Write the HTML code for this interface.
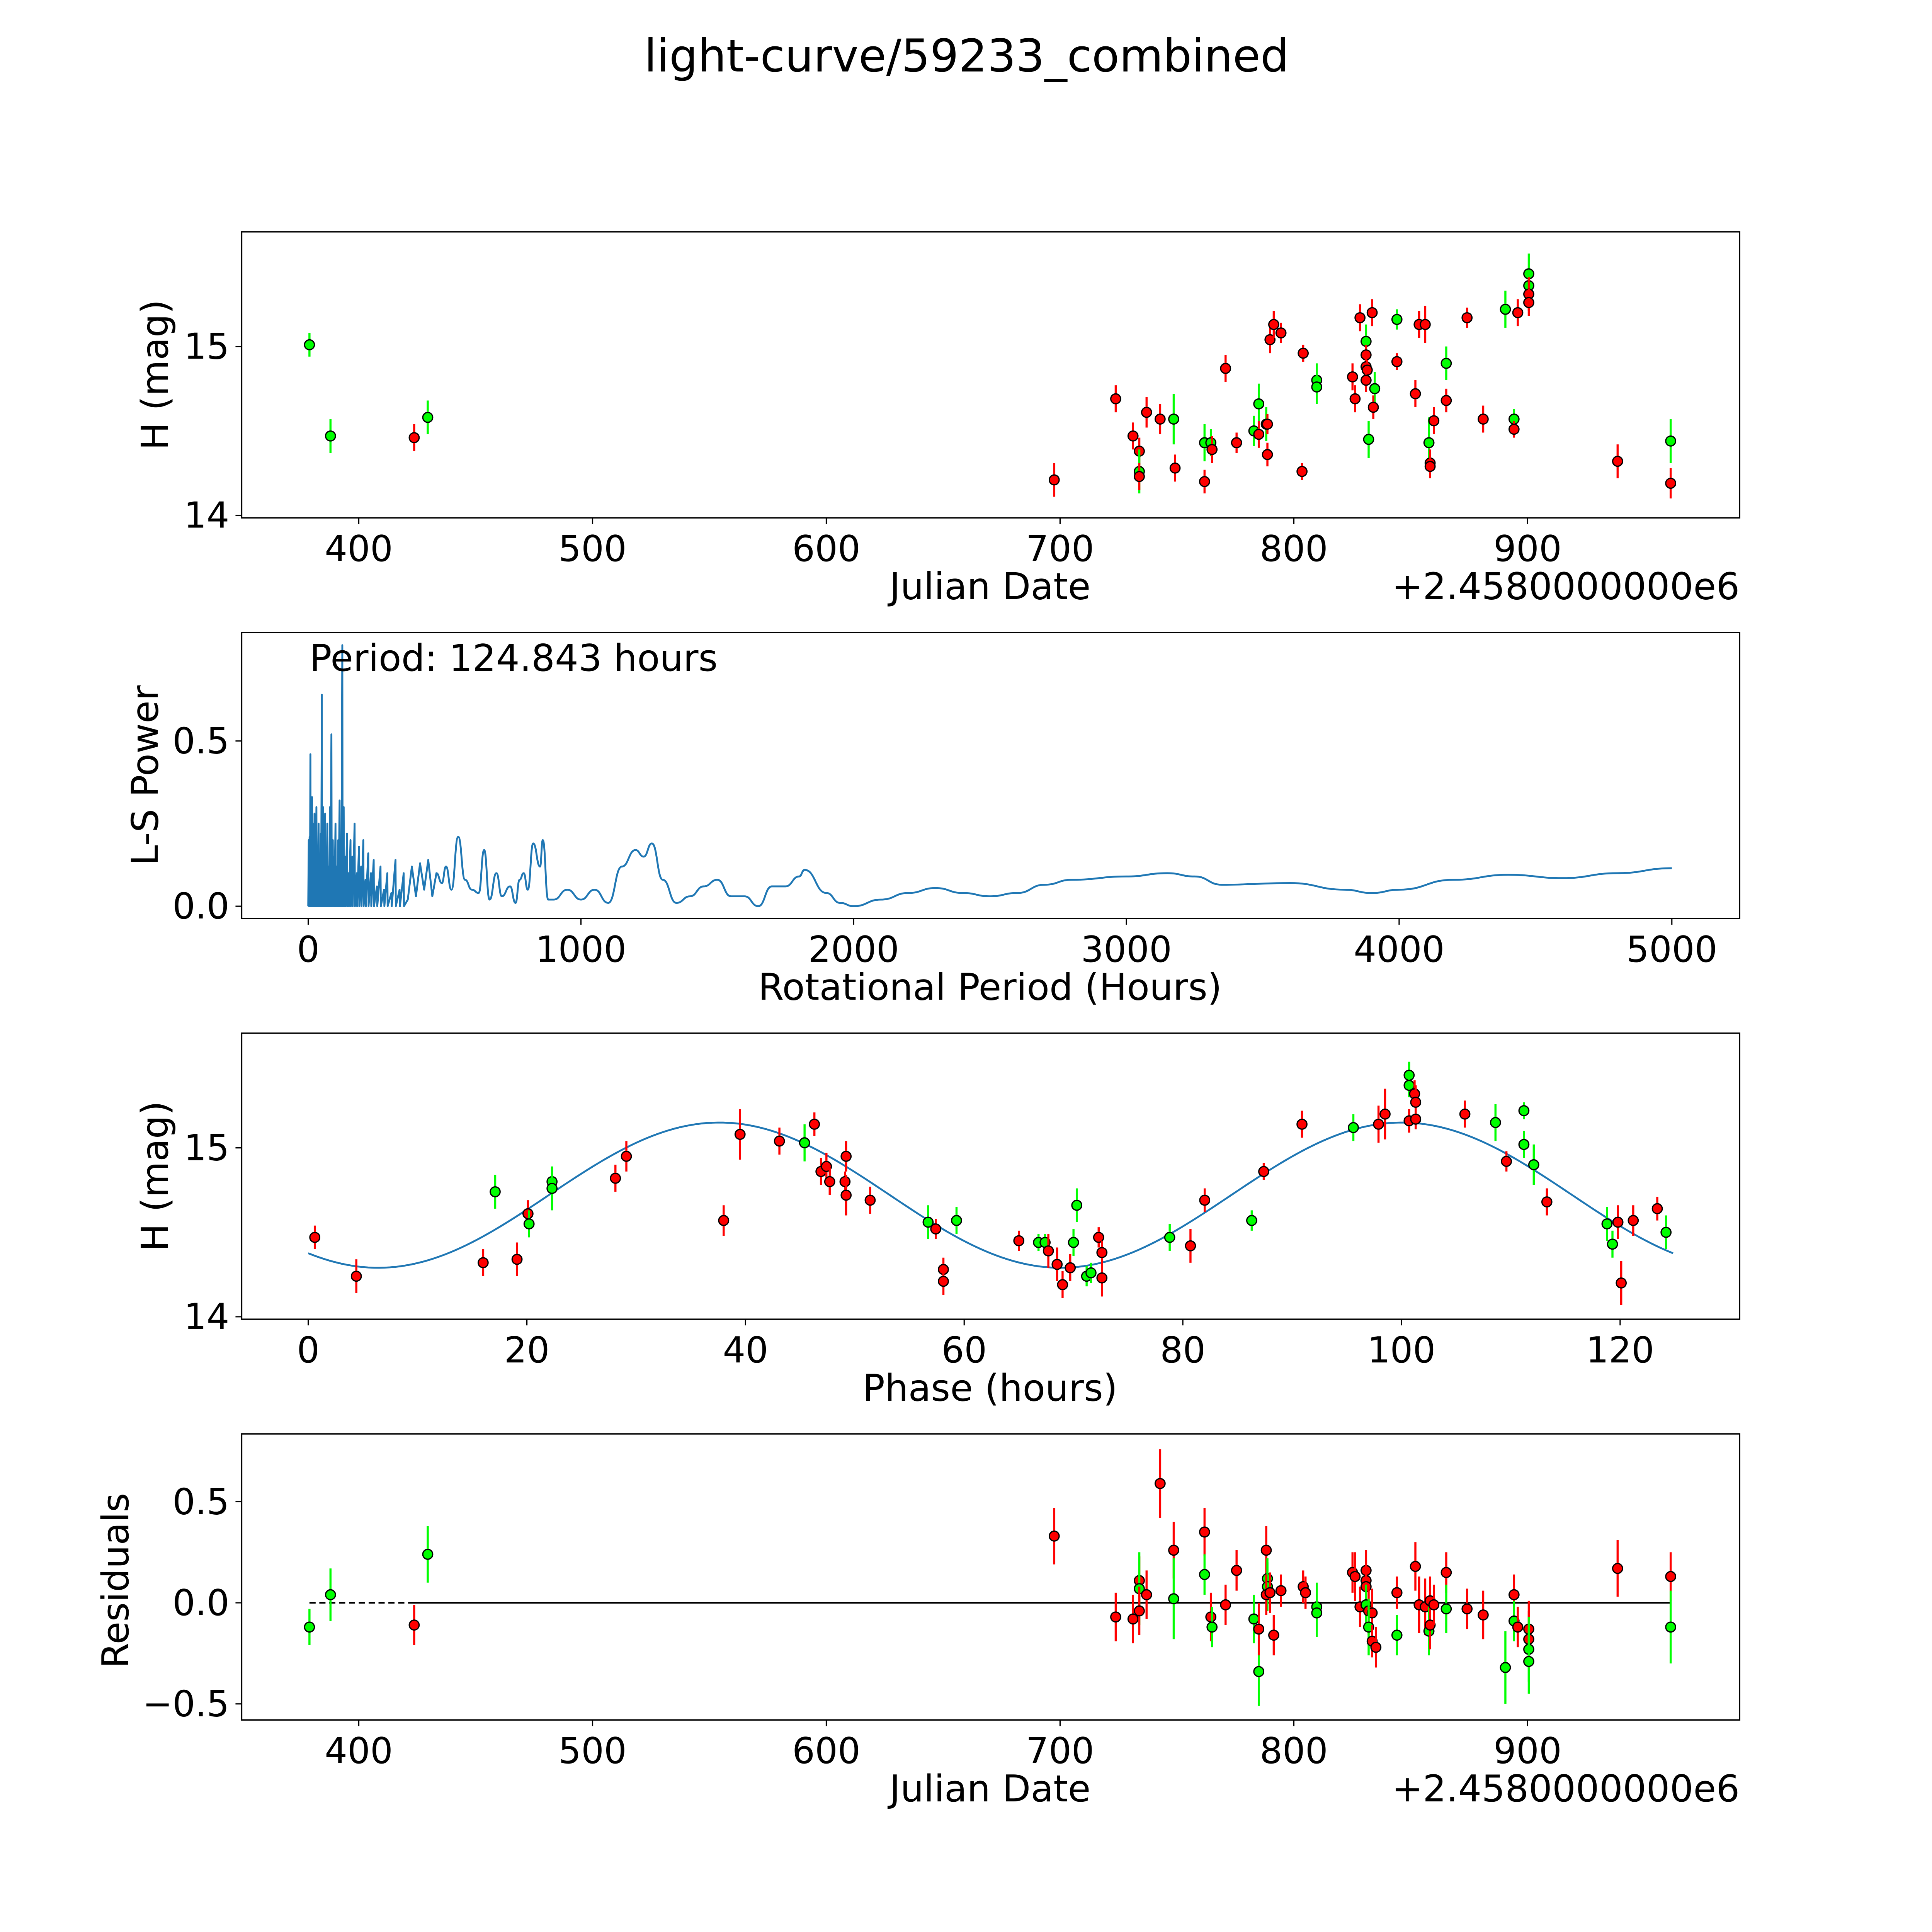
<!DOCTYPE html>
<html><head><meta charset="utf-8">
<style>
html,body{margin:0;padding:0;background:#fff;width:100vw;height:100vh;overflow:hidden;}
svg{display:block;width:100vw;height:100vh;font-family:"DejaVu Sans","Liberation Sans",sans-serif;}
</style></head>
<body>
<svg id="fig" viewBox="0 0 1567 1567" preserveAspectRatio="none" xmlns="http://www.w3.org/2000/svg">
<rect width="1567" height="1567" fill="#fff"/>
<text x="784" y="58" font-size="36.5" text-anchor="middle">light-curve/59233_combined</text>
<g id="plots"></g>
</svg>
<script>
// ---- Panel 1: light curve ----
const jd = [378.9,387.9,423.7,429.5,697.5,723.8,731.2,733.9,733.9,733.9,737,742.8,748.6,749.2,761.8,761.8,764.5,765,770.8,775.5,782.9,785,785,788.2,788.7,788.7,789.8,791.4,794.5,804,803.5,809.8,809.8,825.1,826.2,828.3,830.9,830.9,830.9,831.4,830.9,832,833.5,834.6,834,844.1,844.1,852,853.6,856.2,857.8,858.3,858.3,859.9,865.2,865.2,874.1,881,890.5,894.2,894.2,895.8,900.5,900.5,900.5,900.5,938.5,961.2,961.2];
const mag = [15.01,14.47,14.46,14.58,14.21,14.69,14.47,14.38,14.26,14.23,14.61,14.57,14.57,14.28,14.43,14.20,14.43,14.39,14.87,14.43,14.50,14.66,14.48,14.54,14.54,14.36,15.04,15.13,15.08,14.96,14.26,14.80,14.76,14.82,14.69,15.17,15.03,14.95,14.88,14.86,14.80,14.45,15.20,14.75,14.64,15.16,14.91,14.72,15.13,15.13,14.43,14.31,14.29,14.56,14.90,14.68,15.17,14.57,15.22,14.57,14.51,15.20,15.43,15.36,15.31,15.26,14.32,14.44,14.19];
const band = "ggrgrrrrgrrrgrgrgrrrggrgrrrrrrrggrrrgrrrrgrgrgrrrrgrrrgrrrggrrggrrrgr";
const magErr = [0.07,0.1,0.08,0.1,0.1,0.08,0.08,0.08,0.13,0.08,0.09,0.09,0.15,0.08,0.11,0.07,0.08,0.08,0.08,0.06,0.09,0.12,0.08,0.1,0.06,0.07,0.08,0.08,0.06,0.05,0.05,0.1,0.1,0.08,0.08,0.08,0.1,0.06,0.06,0.06,0.07,0.11,0.08,0.1,0.07,0.06,0.05,0.08,0.08,0.11,0.15,0.08,0.07,0.08,0.1,0.07,0.06,0.08,0.11,0.06,0.05,0.08,0.12,0.08,0.1,0.08,0.1,0.13,0.09];

// ---- Panel 2: periodogram ----
const spikePeriods = [2,5,8,11,14,17,20,23,26,30,34,38,42,46,50,54,58,62,66,70,75,80,85,90,95,100,105,110,115,120,125,130,136,142,148,155,162,170,178,186,194,202,210,220,230,240,252,265,278,290,305,320,335,350,365,380,395,410,425,440,455,470,490,505,525,550,575,600,625,645,665,690,710,740,760,775,790,805,825,850,860,880];
const spikePowers = [0.2,0.21,0.46,0.1,0.33,0.25,0.15,0.28,0.2,0.3,0.15,0.25,0.12,0.22,0.64,0.3,0.2,0.28,0.15,0.25,0.12,0.3,0.52,0.2,0.15,0.25,0.12,0.2,0.32,0.15,0.79,0.3,0.15,0.22,0.1,0.2,0.15,0.25,0.1,0.18,0.12,0.2,0.08,0.16,0.1,0.14,0.06,0.12,0.05,0.1,0.04,0.14,0.05,0.1,0.02,0.12,0.03,0.13,0.05,0.14,0.03,0.1,0.07,0.12,0.05,0.21,0.08,0.05,0.04,0.17,0.02,0.1,0.03,0.06,0.01,0.08,0.1,0.05,0.19,0.12,0.2,0.02];
const smoothPeriods = [900,950,1000,1050,1100,1150,1200,1230,1260,1300,1350,1400,1450,1500,1550,1600,1650,1700,1750,1800,1820,1900,1950,2000,2100,2200,2300,2400,2500,2600,2700,2800,3000,3150,3250,3350,3600,3800,3900,4000,4200,4400,4600,4800,5000];
const smoothPowers = [0.02,0.05,0.02,0.05,0.01,0.12,0.17,0.15,0.19,0.08,0.01,0.03,0.06,0.08,0.03,0.03,0.0,0.06,0.06,0.09,0.11,0.04,0.01,0.0,0.02,0.04,0.055,0.04,0.03,0.04,0.065,0.08,0.09,0.10,0.09,0.065,0.07,0.05,0.04,0.05,0.08,0.095,0.085,0.1,0.115];

// ---- Panel 3: phased ----
const phase = [0.6,4.4,16.0,17.1,19.1,20.1,20.2,22.3,22.3,28.1,29.1,38.0,39.5,43.1,45.4,46.3,46.9,47.4,47.7,49.1,49.2,49.2,51.4,56.7,57.4,58.1,58.1,59.3,65.0,66.8,67.4,67.7,68.5,69.0,69.7,70.0,70.3,71.2,71.6,72.3,72.6,72.6,78.8,80.7,82.0,86.3,87.4,90.9,95.6,97.9,98.5,100.7,100.7,101.2,101.3,100.7,101.3,105.8,108.6,109.6,111.2,111.2,112.1,113.3,118.8,119.3,119.8,120.1,121.2,123.4,124.2];
const phaseMag = [14.47,14.24,14.32,14.74,14.34,14.61,14.55,14.80,14.76,14.82,14.95,14.57,15.08,15.04,15.03,15.14,14.86,14.89,14.80,14.80,14.95,14.72,14.69,14.56,14.52,14.28,14.21,14.57,14.45,14.44,14.44,14.39,14.31,14.19,14.29,14.44,14.66,14.24,14.26,14.47,14.38,14.23,14.47,14.42,14.69,14.57,14.86,15.14,15.12,15.14,15.20,15.43,15.37,15.32,15.27,15.16,15.17,15.20,15.15,14.92,15.22,15.02,14.90,14.68,14.55,14.43,14.56,14.20,14.57,14.64,14.50];
const phaseBand = "rrrgrrgggrrrrrgrrrrrrrrgrrrgrggrrrrggggrrrgrrgrrgrrggrrrrrgrgggrggrrrrg";
const modelParams = [14.72, 0.43, 62.42, 22.0, 124.843]; // mean, amplitude, period, phase offset, span

// ---- Panel 4: residuals ----
const resJd = [378.9,387.9,423.7,429.5,697.5,723.8,731.2,733.9,733.9,733.9,737,742.8,748.6,748.6,761.8,761.8,764.5,765,770.8,775.5,782.9,785,785,788.2,788.7,788.7,788.2,789.8,791.4,794.5,804,805,809.8,809.8,825.1,826.2,828.3,830.9,830.9,830.9,830.9,832,833.5,832,833.5,835.1,844.1,844.1,852,853.6,856.2,857.8,858.3,858.3,859.9,865.2,865.2,874.1,881,890.5,894.2,894.2,895.8,900.5,900.5,900.5,900.5,938.5,961.2,961.2];
const resid = [-0.12,0.04,-0.11,0.24,0.33,-0.07,-0.08,0.11,0.07,-0.04,0.04,0.59,0.26,0.02,0.35,0.14,-0.07,-0.12,-0.01,0.16,-0.08,-0.34,-0.13,0.26,0.12,0.08,0.04,0.05,-0.16,0.06,0.08,0.05,-0.02,-0.05,0.15,0.13,-0.02,0.16,0.11,0.08,-0.01,-0.04,-0.05,-0.12,-0.19,-0.22,0.05,-0.16,0.18,-0.01,-0.02,-0.14,0.01,-0.11,-0.01,0.15,-0.03,-0.03,-0.06,-0.32,0.04,-0.09,-0.12,-0.13,-0.18,-0.23,-0.29,0.17,0.13,-0.12];
const resBand = "ggrgrrrrgrrrrgrgrgrrggrrggrrrrrrggrrrrrrgrrgrrrgrrrgrrrrgrrgrgrrrggrrg";
const resErr = [0.09,0.13,0.1,0.14,0.14,0.12,0.12,0.12,0.18,0.12,0.12,0.17,0.14,0.2,0.12,0.1,0.12,0.1,0.1,0.1,0.12,0.17,0.13,0.12,0.1,0.12,0.1,0.1,0.1,0.08,0.08,0.08,0.12,0.12,0.1,0.12,0.1,0.1,0.1,0.1,0.1,0.12,0.12,0.14,0.08,0.1,0.08,0.1,0.12,0.14,0.14,0.12,0.12,0.12,0.1,0.1,0.12,0.1,0.12,0.18,0.1,0.1,0.1,0.14,0.14,0.16,0.16,0.14,0.12,0.18];

const xTicksJd = [400,500,600,700,800,900];
const yTicksMag = [14,15];
const xTicksP = [0,1000,2000,3000,4000,5000];
const yTicksP = [0.0,0.5];
const xTicksPh = [0,20,40,60,80,100,120];
const yTicksRes = [-0.5,0.0,0.5];

const NS = "http://www.w3.org/2000/svg";
const root = document.getElementById('plots');
function mk(tag, attrs, parent, txt){
  const e = document.createElementNS(NS, tag);
  for (const k in attrs) e.setAttribute(k, attrs[k]);
  if (txt !== undefined) e.textContent = txt;
  (parent || root).appendChild(e);
  return e;
}
const L = 196, R = 1411;
const TF = 29, LF = 30;
const sxJd = v => 291 + (v - 400) * 1.896;
const COL = {r:'#ff0000', g:'#00ff00'};

function axesBox(name, top, bottom){
  const g = mk('g', {});
  
  
  mk('rect', {x:L, y:top, width:R-L, height:bottom-top, fill:'none', stroke:'#000', 'stroke-width':1.1}, g);
  return g;
}
function xTicks(g, ticks, sx, bottom, fmt){
  ticks.forEach(t => {
    const x = sx(t);
    mk('line', {x1:x, x2:x, y1:bottom, y2:bottom+5, stroke:'#000', 'stroke-width':1}, g);
    const lab = mk('text', {x:x, y:bottom+35, 'font-size':TF, 'text-anchor':'middle'}, g, fmt ? fmt(t) : String(t));
    
    
  });
}
function yTicks(g, ticks, sy, fmt){
  ticks.forEach(t => {
    const y = sy(t);
    mk('line', {x1:L-5, x2:L, y1:y, y2:y, stroke:'#000', 'stroke-width':1}, g);
    const lab = mk('text', {x:L-10, y:y+10, 'font-size':TF, 'text-anchor':'end'}, g, fmt ? fmt(t) : String(t));
    
    
  });
}
function label(g, txt, x, y, rot, name){
  const t = mk('text', {x:x, y:y, 'font-size':LF, 'text-anchor':'middle', transform: rot ? `rotate(-90 ${x} ${y})` : ''}, g, txt);
  
  
}
function points(g, xs, ys, errs, bands, sx, sy){
  xs.forEach((xv, i) => {
    const x = sx(xv), y = sy(ys[i]);
    const c = COL[bands[i]] || COL.r;
    if (errs) mk('line', {x1:x, x2:x, y1:sy(ys[i]-errs[i]), y2:sy(ys[i]+errs[i]), stroke:c, 'stroke-width':1.7}, g);
    const p = mk('circle', {cx:x, cy:y, r:4, fill:c, stroke:'#000', 'stroke-width':1}, g);
    
    
  });
}

// Panel 1
{
  const top=188, bot=420;
  const sy = v => 281 - (v - 15) * 137;
  const g = axesBox('light-curve-panel', top, bot);
  points(g, jd, mag, magErr, band, sxJd, sy);
  xTicks(g, xTicksJd, sxJd, bot);
  yTicks(g, yTicksMag, sy);
  label(g, 'Julian Date', 803, 486, false, 'x-axis-title');
  label(g, 'H (mag)', 136, 304, true, 'y-axis-title');
  const o = mk('text', {x:R, y:486, 'font-size':LF, 'text-anchor':'end'}, g, '+2.4580000000e6');
  
  
}
// Panel 2
{
  const top=513, bot=745;
  const sx = v => 250 + v * 0.2212;
  const sy = v => 735 - v * 268;
  const g = axesBox('periodogram-panel', top, bot);
  let pts = [[sx(0), sy(0)]];
  spikePeriods.forEach((p, i) => {
    pts.push([sx(p), sy(spikePowers[i])]);
    if (p < 360) pts.push([sx(p + 1.2), sy(0)]);
  });
  const nSharp = pts.length;
  smoothPeriods.forEach((p, i) => pts.push([sx(p), sy(smoothPowers[i])]));
  let d = 'M' + pts[0][0] + ' ' + pts[0][1];
  for (let i = 1; i < pts.length; i++){
    if (i >= nSharp - 20) {
      const [x0,y0] = pts[i-1], [x1,y1] = pts[i];
      const mx = (x0 + x1) / 2;
      d += ` C${mx} ${y0} ${mx} ${y1} ${x1} ${y1}`;
    } else d += ` L${pts[i][0]} ${pts[i][1]}`;
  }
  const path = mk('path', {d:d, fill:'none', stroke:'#1f77b4', 'stroke-width':1.5, 'stroke-linejoin':'round'}, g);
  
  
  xTicks(g, xTicksP, sx, bot);
  yTicks(g, yTicksP, sy, t => t.toFixed(1));
  label(g, 'Rotational Period (Hours)', 803, 811, false, 'x-axis-title');
  label(g, 'L-S Power', 128, 629, true, 'y-axis-title');
  const a = mk('text', {x:251, y:544, 'font-size':LF}, g, 'Period: 124.843 hours');
  
  
}
// Panel 3
{
  const top=838, bot=1070;
  const sx = v => 250 + v * 8.867;
  const sy = v => 931 - (v - 15) * 137;
  const g = axesBox('phase-panel', top, bot);
  const [mean, amp, per, off, span] = modelParams;
  let d = '';
  for (let i = 0; i <= 250; i++){
    const ph = span * i / 250;
    const m = mean + amp * Math.sin(2 * Math.PI * (ph - off) / per);
    d += (i ? ' L' : 'M') + sx(ph).toFixed(2) + ' ' + sy(m).toFixed(2);
  }
  const c = mk('path', {d:d, fill:'none', stroke:'#1f77b4', 'stroke-width':1.5}, g);
  
  
  points(g, phase, phaseMag, phaseMag.map((_, i) => magErr[i % magErr.length]), phaseBand, sx, sy);
  xTicks(g, xTicksPh, sx, bot);
  yTicks(g, yTicksMag, sy);
  label(g, 'Phase (hours)', 803, 1136, false, 'x-axis-title');
  label(g, 'H (mag)', 136, 954, true, 'y-axis-title');
}
// Panel 4
{
  const top=1163, bot=1395;
  const sy = v => 1300 - v * 164;
  const g = axesBox('residuals-panel', top, bot);
  const x0 = sxJd(resJd[0]), x1 = sxJd(resJd[2]), x2 = sxJd(resJd[resJd.length-1]);
  mk('line', {x1:x0, x2:x1, y1:sy(0), y2:sy(0), stroke:'#000', 'stroke-width':1.3, 'stroke-dasharray':'5,3'}, g);
  const zl = mk('line', {x1:x1, x2:x2, y1:sy(0), y2:sy(0), stroke:'#000', 'stroke-width':1.3}, g);
  
  
  points(g, resJd, resid, resErr, resBand, sxJd, sy);
  xTicks(g, xTicksJd, sxJd, bot);
  yTicks(g, yTicksRes, sy, t => (t < 0 ? '\u2212' + Math.abs(t).toFixed(1) : t.toFixed(1)));
  label(g, 'Julian Date', 803, 1461, false, 'x-axis-title');
  label(g, 'Residuals', 104, 1282, true, 'y-axis-title');
  const o = mk('text', {x:R, y:1461, 'font-size':LF, 'text-anchor':'end'}, g, '+2.4580000000e6');
  
  
}
</script>
</body></html>
